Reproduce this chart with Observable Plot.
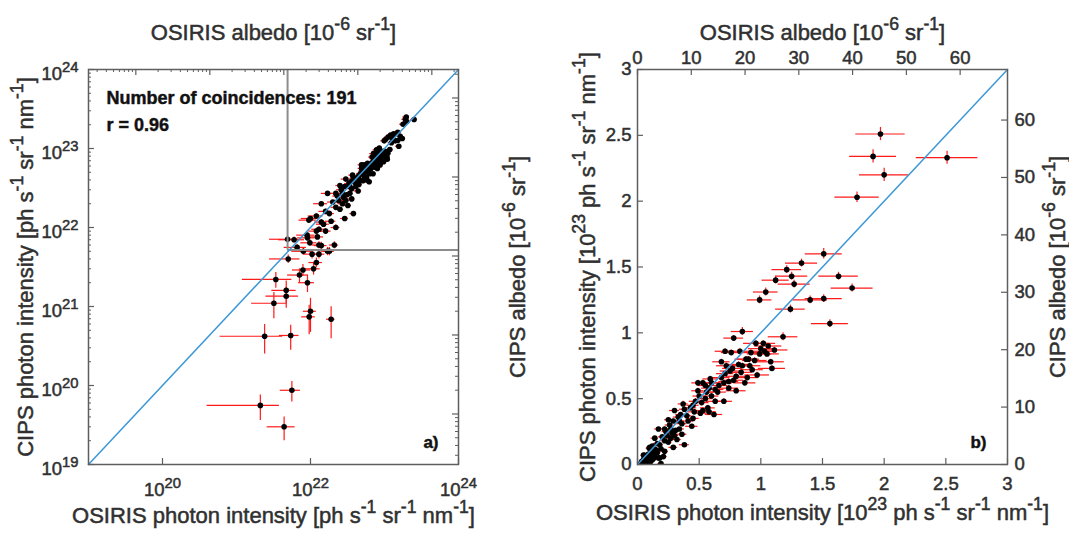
<!DOCTYPE html>
<html><head><meta charset="utf-8">
<script src="https://cdn.jsdelivr.net/npm/d3@7"></script>
<script src="https://cdn.jsdelivr.net/npm/@observablehq/plot@0.6"></script>
<style>
body{margin:0;background:#fff}
#row{display:flex;width:1069px;height:534px;overflow:hidden}
svg{display:block}
#row text{stroke:#303030;stroke-width:0.5px;paint-order:stroke}
</style>
</head><body><div id="row"></div>
<script>
// ---- data (photon intensity in units of 10^23 ph s^-1 sr^-1 nm^-1) ----
const osirisIntensity = [
  1.97,1.91,2.51,2.00,1.78,1.51,1.33,1.21,1.25,1.27,1.12,1.63,1.74,1.04,0.99,1.40,1.51,1.24,1.56,1.18,0.85,0.78,
  0.71,0.76,0.83,0.96,1.02,1.06,1.11,0.99,0.95,0.91,0.85,0.82,0.68,0.75,0.89,0.80,0.78,0.71,1.08,1.09,0.87,0.80,
  0.70,0.63,0.59,0.53,0.49,0.56,0.49,0.63,0.70,0.57,0.53,0.62,0.47,0.43,0.37,0.40,0.33,0.30,0.25,0.36,0.44,0.22,
  0.17,0.28,0.36,0.32,0.38,0.22,0.14,0.10,0.15,0.22,0.21,0.09,0.05,0.11,0.29,0.13,0.17,
  0.26,0.31,0.34,0.27,0.18,0.24,0.12,0.16,0.46,0.52,0.55,0.60,0.66,0.74,0.77,0.92,0.88,1.00,1.05,0.97,0.93,
  0.45,0.50,0.55,0.58,0.60,0.65,0.68,0.72,0.74,0.35,0.38,0.41,0.29,0.27,0.23,0.20,0.19,0.25,0.30,0.34,
  0.08,0.06,0.12,0.16,0.45,0.51,0.58,0.84,0.90,1.03,
  0.049,0.066,0.091,0.12,0.071,0.079,0.091,0.034,0.047,0.047,0.032,0.10,0.096,0.19,0.024,0.054,0.056,0.021,0.044,
  0.105,0.13,0.14,0.18,0.098,0.124,0.095,0.13,0.14
];
const cipsIntensity = [
  2.51,2.34,2.33,2.20,2.03,1.60,1.53,1.48,1.43,1.37,1.40,1.43,1.34,1.31,1.25,1.25,1.26,1.18,1.07,0.97,1.01,0.96,
  0.86,0.85,0.86,0.92,0.92,0.90,0.87,0.84,0.79,0.75,0.75,0.76,0.78,0.71,0.66,0.67,0.64,0.69,0.78,0.73,0.62,0.56,
  0.62,0.57,0.65,0.62,0.62,0.55,0.56,0.48,0.48,0.43,0.41,0.38,0.48,0.43,0.46,0.37,0.36,0.41,0.34,0.31,0.29,0.27,
  0.27,0.24,0.23,0.19,0.15,0.18,0.20,0.13,0.11,0.10,0.06,0.08,0.04,0.03,0.13,0.06,0.05,
  0.30,0.26,0.33,0.20,0.15,0.22,0.09,0.16,0.40,0.47,0.60,0.52,0.60,0.58,0.73,0.85,0.80,0.88,0.84,0.68,0.72,
  0.45,0.52,0.50,0.58,0.62,0.55,0.66,0.75,0.63,0.38,0.42,0.33,0.33,0.27,0.25,0.21,0.12,0.17,0.22,0.27,
  0.05,0.07,0.14,0.09,0.35,0.39,0.40,0.70,0.80,0.86,
  0.071,0.056,0.074,0.036,0.025,0.029,0.020,0.022,0.016,0.0135,0.011,0.0087,0.0074,0.0069,0.0042,0.0043,0.00087,0.00056,0.0003,
  0.046,0.046,0.059,0.050,0.064,0.076,0.124,0.095,0.117
];
const osirisError = [
  0.20,0.19,0.25,0.20,0.18,0.15,0.13,0.12,0.13,0.13,0.11,0.16,0.17,0.10,0.10,0.14,0.15,0.12,0.15,0.12,0.09,0.08,
  0.08,0.08,0.09,0.10,0.10,0.11,0.11,0.10,0.10,0.09,0.09,0.08,0.07,0.08,0.09,0.08,0.08,0.07,0.11,0.11,0.09,0.08,
  0.07,0.07,0.06,0.06,0.05,0.06,0.05,0.07,0.07,0.06,0.06,0.07,0.05,0.05,0.04,0.04,0.04,0.04,0.03,0.04,0.05,0.03,
  0.03,0.035,0.04,0.035,0.04,0.03,0.03,0.025,0.03,0.03,0.03,0.025,0.022,0.025,0.035,0.025,0.03,
  0.035,0.035,0.04,0.035,0.03,0.03,0.025,0.03,0.05,0.06,0.06,0.06,0.07,0.08,0.08,0.09,0.09,0.10,0.10,0.10,0.09,
  0.05,0.05,0.06,0.06,0.06,0.07,0.07,0.08,0.08,0.04,0.04,0.045,0.035,0.035,0.03,0.03,0.03,0.03,0.035,0.04,
  0.024,0.023,0.027,0.03,0.05,0.055,0.06,0.09,0.09,0.10,
  0.021,0.022,0.024,0.025,0.022,0.022,0.022,0.022,0.017,0.022,0.016,0.020,0.020,0.025,0.018,0.016,0.017,0.017,0.018,
  0.025,0.026,0.027,0.030,0.024,0.026,0.025,0.026,0.027
];
const cipsError = [
  0.05,0.05,0.05,0.05,0.04,0.04,0.03,0.03,0.03,0.03,0.03,0.03,0.03,0.03,0.03,0.03,0.03,0.03,0.03,0.03,0.03,0.02,
  0.02,0.02,0.02,0.02,0.02,0.02,0.02,0.02,0.02,0.02,0.02,0.02,0.02,0.02,0.02,0.02,0.02,0.02,0.02,0.02,0.02,0.02,
  0.02,0.02,0.02,0.02,0.02,0.02,0.02,0.02,0.02,0.02,0.02,0.02,0.02,0.02,0.02,0.02,0.015,0.015,0.015,0.015,0.015,0.012,
  0.012,0.012,0.012,0.01,0.01,0.01,0.01,0.008,0.008,0.008,0.006,0.006,0.005,0.005,0.008,0.006,0.006,
  0.015,0.012,0.015,0.01,0.01,0.012,0.008,0.01,0.02,0.02,0.02,0.02,0.02,0.02,0.02,0.02,0.02,0.02,0.02,0.02,0.02,
  0.02,0.02,0.02,0.02,0.02,0.02,0.02,0.02,0.02,0.015,0.015,0.015,0.015,0.012,0.012,0.01,0.008,0.01,0.012,0.012,
  0.005,0.006,0.009,0.007,0.015,0.015,0.015,0.02,0.02,0.02,
  0.005,0.005,0.006,0.005,0.005,0.005,0.005,0.005,0.005,0.004,0.004,0.004,0.003,0.003,0.0017,0.0015,0.00025,0.0002,0.0001,
  0.006,0.006,0.006,0.006,0.006,0.006,0.008,0.007,0.008
];
// detection thresholds drawn as grey lines in panel a [OSIRIS, CIPS], ph s^-1 sr^-1 nm^-1
const thresholds = [4.9e21, 5.2e21];

// ---- axes: ticks and labels ----
const intensityUnit = 1e23;
const albedoUnit = 4.36e21;               // photon intensity of 1e-6 sr^-1 albedo
const logDomain = [1e19, 1e24];
const logBottomExp = [20, 22, 24];
const logLeftExp = [19, 20, 21, 22, 23, 24];
const albedoLogTicks = [0.01, 0.1, 1, 10, 100];
const albedoLogLabels = ["0.01", "0.1", "1", "10", "100"];
const linDomain = [0, 3];
const linTicks = [0, 0.5, 1, 1.5, 2, 2.5, 3];
const linLabels = ["0", "0.5", "1", "1.5", "2", "2.5", "3"];
const albedoLinTicks = [0, 10, 20, 30, 40, 50, 60];
const albedoLinLabels = ["0", "10", "20", "30", "40", "50", "60"];

const xLabelA = "OSIRIS photon intensity [ph s^{-1} sr^{-1} nm^{-1}]";
const yLabelA = "CIPS photon intensity [ph s^{-1} sr^{-1} nm^{-1}]";
const xLabelB = "OSIRIS photon intensity [10^{23} ph s^{-1} sr^{-1} nm^{-1}]";
const yLabelB = "CIPS photon intensity [10^{23} ph s^{-1} sr^{-1} nm^{-1}]";
const topLabel = "OSIRIS albedo [10^{-6} sr^{-1}]";
const rightLabel = "CIPS albedo [10^{-6} sr^{-1}]";
const annotations = ["Number of coincidences: 191", "r = 0.96"];
const panelTags = ["a)", "b)"];

// ---- styles ----
const RED = "#ff1a1a", BLUE = "#3d98d6", FRAME = "#5e5e5e", GRAY = "#8c8c8c", INK = "#303030";
const H = 534, LABEL = 22, TICK = 18.5;
const M = {marginLeft: 88, marginTop: 69, marginBottom: 70};
const font = {fontFamily: "'Liberation Sans', Arial, Helvetica, sans-serif", fontSize: TICK + "px", color: INK, background: "#fff"};

const rows = osirisIntensity.map((x, i) => ({x, y: cipsIntensity[i], xe: osirisError[i], ye: cipsError[i]}));

function inwardTicks(xs, ys, xsTop, ysRight, fw, fh, len, extra) {
  const o = {stroke: FRAME, strokeWidth: 1.2, ...extra};
  return [
    Plot.ruleX(xs, {x: d => d, insetTop: fh - len, ...o}),
    Plot.ruleX(xsTop, {x: d => d, insetBottom: fh - len, ...o}),
    Plot.ruleY(ys, {y: d => d, insetRight: fw - len, ...o}),
    Plot.ruleY(ysRight, {y: d => d, insetLeft: fw - len, ...o})
  ];
}
function mapFmt(vals, labels) { const m = new Map(vals.map((v, i) => [v, labels[i]])); return d => m.get(d); }
function labels(top, bottom, left, right, pos) {
  return [
    Plot.text([bottom], {frameAnchor: "bottom", dy: pos.bottom, text: d => d, fontSize: LABEL, textAnchor: "middle"}),
    Plot.text([top], {frameAnchor: "top", dy: pos.top, text: d => d, fontSize: LABEL, textAnchor: "middle"}),
    Plot.text([left], {frameAnchor: "left", dx: pos.left, rotate: -90, text: d => d, fontSize: LABEL, textAnchor: "middle"}),
    Plot.text([right], {frameAnchor: "right", dx: pos.right, rotate: -90, text: d => d, fontSize: LABEL, textAnchor: "middle"})
  ];
}
const bold = {textAnchor: "start", text: d => d, fontWeight: "bold", fontSize: 18, fill: "#111", stroke: "none"};

// ---------------- panel a ----------------
{
  const W = 549, mR = 91;
  const fw = W - M.marginLeft - mR, fh = H - M.marginTop - M.marginBottom;
  const bottomT = logBottomExp.map(e => 10 ** e);
  const leftT = logLeftExp.map(e => 10 ** e);
  const topT = albedoLogTicks.map(a => a * albedoUnit);
  const minorY = d3.scaleLog().domain(logDomain).ticks().filter(v => !leftT.some(t => Math.abs(t / v - 1) < 1e-9));
  const albDom = logDomain.map(v => v / albedoUnit);
  const minorAlb = d3.scaleLog().domain(albDom).ticks().filter(v => !albedoLogTicks.some(t => Math.abs(t / v - 1) < 1e-9)).map(a => a * albedoUnit);
  const X = d => d.x * intensityUnit, Y = d => d.y * intensityUnit;
  const svg = Plot.plot({
    width: W, height: H, ...M, marginRight: mR,
    style: font,
    x: {type: "log", domain: logDomain},
    y: {type: "log", domain: logDomain},
    marks: [
      Plot.ruleY(rows, {y: Y, x1: d => (d.x - d.xe) * intensityUnit, x2: d => (d.x + d.xe) * intensityUnit, stroke: RED, strokeWidth: 1.2, clip: true}),
      Plot.ruleX(rows, {x: X, y1: d => (d.y - d.ye) * intensityUnit, y2: d => (d.y + d.ye) * intensityUnit, stroke: RED, strokeWidth: 1.2, clip: true}),
      Plot.dot(rows, {x: X, y: Y, r: 2.8, fill: "#000", stroke: "none", clip: true}),
      Plot.ruleX([thresholds[0]], {x: d => d, y1: thresholds[1], y2: logDomain[1], stroke: GRAY, strokeWidth: 2}),
      Plot.ruleY([thresholds[1]], {y: d => d, x1: thresholds[0], x2: logDomain[1], stroke: GRAY, strokeWidth: 2}),
      Plot.line(logDomain, {x: d => d, y: d => d, stroke: BLUE, strokeWidth: 1.5}),
      Plot.frame({stroke: FRAME, strokeWidth: 1.5}),
      ...inwardTicks(bottomT, leftT, topT, topT, fw, fh, 6),
      ...inwardTicks([], minorY, minorAlb, minorAlb, fw, fh, 3, {strokeWidth: 1}),
      Plot.axisX(bottomT, {anchor: "bottom", tickSize: 0, tickPadding: 18.5, tickFormat: mapFmt(bottomT, logBottomExp.map(e => `10^{${e}}`)), label: null}),
      Plot.axisY(leftT, {anchor: "left", tickSize: 0, tickPadding: 10, dy: 5, tickFormat: mapFmt(leftT, logLeftExp.map(e => `10^{${e}}`)), label: null}),
      Plot.axisX(topT, {anchor: "top", tickSize: 0, tickPadding: 6, tickFormat: mapFmt(topT, albedoLogLabels), label: null}),
      Plot.axisY(topT, {anchor: "right", tickSize: 0, tickPadding: 7, tickFormat: mapFmt(topT, albedoLogLabels), label: null}),
      ...labels(topLabel, xLabelA, yLabelA, rightLabel, {bottom: 58, top: -45, left: -63, right: 59}),
      Plot.text([annotations[0]], {frameAnchor: "top-left", dx: 18, dy: 22, ...bold}),
      Plot.text([annotations[1]], {frameAnchor: "top-left", dx: 18, dy: 49, ...bold}),
      Plot.text([panelTags[0]], {frameAnchor: "bottom-right", dx: -20, dy: -17, ...bold, textAnchor: "end", fontSize: 17})
    ]
  });
  document.getElementById("row").appendChild(svg);
}

// ---------------- panel b ----------------
{
  const W = 520, mR = 62;
  const fw = W - M.marginLeft - mR, fh = H - M.marginTop - M.marginBottom;
  const albT = albedoLinTicks.map(a => a * albedoUnit / intensityUnit);
  const svg = Plot.plot({
    width: W, height: H, ...M, marginRight: mR,
    style: font,
    x: {domain: linDomain},
    y: {domain: linDomain},
    marks: [
      Plot.ruleY(rows, {y: "y", x1: d => d.x - d.xe, x2: d => d.x + d.xe, stroke: RED, strokeWidth: 1.2, clip: true}),
      Plot.ruleX(rows, {x: "x", y1: d => d.y - d.ye, y2: d => d.y + d.ye, stroke: RED, strokeWidth: 1.2, clip: true}),
      Plot.dot(rows, {x: "x", y: "y", r: 2.8, fill: "#000", stroke: "none", clip: true}),
      Plot.line(linDomain, {x: d => d, y: d => d, stroke: BLUE, strokeWidth: 1.5}),
      Plot.frame({stroke: FRAME, strokeWidth: 1.5}),
      ...inwardTicks(linTicks, linTicks, albT, albT, fw, fh, 6),
      Plot.axisX(linTicks, {anchor: "bottom", tickSize: 0, tickPadding: 12, tickFormat: mapFmt(linTicks, linLabels), label: null}),
      Plot.axisY(linTicks, {anchor: "left", tickSize: 0, tickPadding: 6, tickFormat: mapFmt(linTicks, linLabels), label: null}),
      Plot.axisX(albT, {anchor: "top", tickSize: 0, tickPadding: 6, tickFormat: mapFmt(albT, albedoLinLabels), label: null}),
      Plot.axisY(albT, {anchor: "right", tickSize: 0, tickPadding: 7, tickFormat: mapFmt(albT, albedoLinLabels), label: null}),
      ...labels(topLabel, xLabelB, yLabelB, rightLabel, {bottom: 55, top: -45, left: -50, right: 50}),
      Plot.text([panelTags[1]], {frameAnchor: "bottom-right", dx: -21, dy: -17, ...bold, textAnchor: "end", fontSize: 17})
    ]
  });
  document.getElementById("row").appendChild(svg);
}

// ---- superscripts: turn ^{..} into raised tspans ----
document.querySelectorAll("#row text").forEach(t => {
  const targets = t.querySelector("tspan") ? [...t.querySelectorAll("tspan")] : [t];
  targets.forEach(n => {
    const s = n.textContent;
    if (!s.includes("^{")) return;
    const parts = s.split(/\^\{([^}]*)\}/);
    n.textContent = "";
    parts.forEach((p, i) => {
      if (!p) return;
      const ts = document.createElementNS("http://www.w3.org/2000/svg", "tspan");
      ts.textContent = p;
      if (i % 2) ts.setAttribute("style", "font-size:80%;baseline-shift:super");
      n.appendChild(ts);
    });
  });
});
</script>
</body></html>
